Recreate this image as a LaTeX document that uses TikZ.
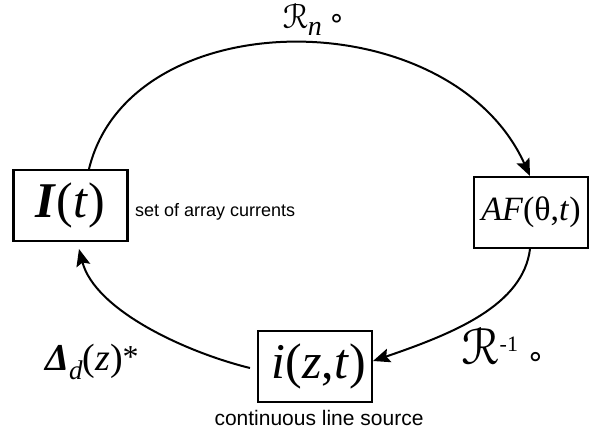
\documentclass[tikz,border=0pt]{standalone}
\usepackage{fontspec}
\setmainfont{Liberation Serif}
\newfontfamily\arialfont{Liberation Sans}
\newfontfamily\dejavu{DejaVu Sans}
\usepackage{eucal}
\usetikzlibrary{arrows.meta}
\tikzset{
  boxnode/.style={draw, line width=2.4pt, minimum width=114pt, minimum height=71pt, inner sep=0pt},
  conn/.style={line width=2pt},
  arr/.style={-{Stealth[length=17pt,width=14pt,inset=3pt]}},
  lbl/.style={inner sep=0pt}
}
\newcommand{\fsz}[1]{\fontsize{#1}{#1}\selectfont}
\newcommand{\scR}[1]{\scalebox{#1}{$\mathcal{R}$}}
\newcommand{\ringop}[1]{{\dejavu\fsz{#1}∘}}
\begin{document}
\begin{tikzpicture}[x=1pt,y=-1pt]
\useasboundingbox (0,0) rectangle (594,432);
\node[boxnode] (I) at (70.5,205.5) {\fsz{50}\textbf{\textit{I}}(\textit{t})};
\node[boxnode] (AF) at (531,212.5) {\fsz{34}\textit{AF}(θ,\textit{t})};
\node[boxnode] (iz) at (315,366.5) {\hspace*{8pt}\fsz{50}\textit{i}(\textit{z},\textit{t})};
\node[lbl, anchor=west, font=\arialfont\fontsize{18}{22}\selectfont] (n1) at (135,212) {set of array currents};
\node[lbl, font=\arialfont\fontsize{21}{24}\selectfont] (n2) at (319,418) {continuous line source};
\node[lbl, anchor=base] (Rn) at (314,28) {\raisebox{0pt}[18pt][0pt]{\scR{3.5}}\raisebox{-7pt}{\fsz{28}\textit{n}}\hspace{6pt}\raisebox{1pt}{\ringop{28}}};
\node[lbl] (Rinv) at (503,347) {\scR{5.2}\hspace{1pt}\raisebox{13pt}{\fsz{22}-1}\hspace{8pt}\raisebox{-2pt}{\ringop{30}}};
\node[lbl] (Dl) at (92,362) {\fsz{38}\textbf{\textit{Δ}}\raisebox{-9pt}{\fsz{27}\textit{d}}(\textit{z})\raisebox{3pt}{\fsz{32}*}};
\coordinate (s1) at (89,169);
\coordinate (e1) at (530,176);
\coordinate (s2) at (530,249);
\coordinate (e2) at (373,361);
\coordinate (s3) at (250,368);
\coordinate (e3) at (79,249);
\draw[conn, arr] (s1) .. controls (130,0) and (450,0) .. (e1);
\draw[conn, arr] (s2) .. controls (523,305) and (455,333) .. (e2);
\draw[conn, arr] (s3) .. controls (185,352) and (95,310) .. (e3);
\end{tikzpicture}
\end{document}
